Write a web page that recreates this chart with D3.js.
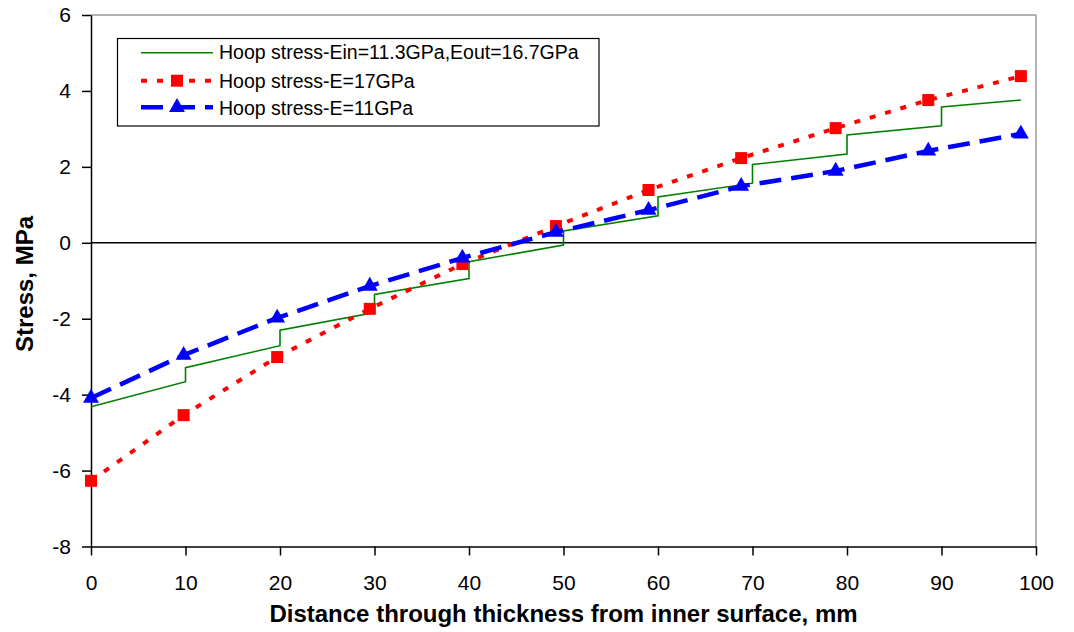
<!DOCTYPE html>
<html lang="en">
<head>
<meta charset="UTF-8">
<title>Hoop stress through thickness</title>
<script src="https://d3js.org/d3.v7.min.js"></script>
<style>
    body { margin: 0; background: white; }
    svg { display: block; }
    text { font-family: "Liberation Sans", Arial, sans-serif; fill: black; }
    .axis text { font-size: 21px; }
    .axis line, .axis path { stroke: black; stroke-width: 1.5px; }
    .title { font-size: 24px; font-weight: bold; }
    .legend text { font-size: 19.5px; }
</style>
</head>
<body>
<div id="container"></div>
<script>
// positions through thickness (mm) for the two uniform-modulus cases
const xPoints = [0, 9.8, 19.7, 29.5, 39.3, 49.2, 59.0, 68.8, 78.8, 88.6, 98.4];
const stressE17 = [-6.27, -4.54, -3.01, -1.74, -0.56, 0.44, 1.39, 2.23, 3.02, 3.76, 4.39];
const stressE11 = [-4.09, -2.96, -1.98, -1.14, -0.40, 0.28, 0.86, 1.49, 1.89, 2.42, 2.87];

// graded modulus case, stepped at each layer boundary
const gradedX = [0, 10, 10, 20, 20, 30, 30, 40, 40, 50, 50, 60, 60, 70, 70, 80, 80, 90, 90, 98.4];
const gradedStress = [-4.32, -3.66, -3.29, -2.71, -2.30, -1.84, -1.36, -0.94, -0.50, -0.06,
                      0.31, 0.71, 1.21, 1.57, 2.06, 2.34, 2.84, 3.08, 3.58, 3.76];

const xTicks = [0, 10, 20, 30, 40, 50, 60, 70, 80, 90, 100];
const yTicks = [-8, -6, -4, -2, 0, 2, 4, 6];

const seriesNames = ["Hoop stress-Ein=11.3GPa,Eout=16.7GPa", "Hoop stress-E=17GPa", "Hoop stress-E=11GPa"];

const width = 1074, height = 632;
const plot = {left: 91, right: 1036, top: 15, bottom: 546.5};

const svg = d3.select("#container").append("svg")
    .attr("width", width)
    .attr("height", height);

const xScale = d3.scaleLinear().domain([0, 100]).range([plot.left, plot.right]);
const yScale = d3.scaleLinear().domain([-8, 6]).range([plot.bottom, plot.top]);

// gray frame on top and right
svg.append("line")
    .attr("x1", plot.left).attr("x2", plot.right)
    .attr("y1", plot.top).attr("y2", plot.top)
    .attr("stroke", "#999").attr("stroke-width", 1.5);
svg.append("line")
    .attr("x1", plot.right).attr("x2", plot.right)
    .attr("y1", plot.top).attr("y2", plot.bottom)
    .attr("stroke", "#999").attr("stroke-width", 1.5);

// axes
svg.append("g").attr("class", "axis")
    .attr("transform", `translate(0,${plot.bottom})`)
    .call(d3.axisBottom(xScale).tickValues(xTicks).tickSize(9).tickSizeOuter(0).tickPadding(19.5));

svg.append("g").attr("class", "axis")
    .attr("transform", `translate(${plot.left},0)`)
    .call(d3.axisLeft(yScale).tickValues(yTicks).tickSize(9).tickSizeOuter(0).tickPadding(11)
        .tickFormat(d => String(d)));

// zero line
svg.append("line")
    .attr("x1", xScale(0)).attr("x2", xScale(100))
    .attr("y1", yScale(0)).attr("y2", yScale(0))
    .attr("stroke", "black").attr("stroke-width", 1.5);

const line = d3.line().x(d => xScale(d[0])).y(d => yScale(d[1]));

const gradedData = gradedX.map((x, i) => [x, gradedStress[i]]);
const e17Data = xPoints.map((x, i) => [x, stressE17[i]]);
const e11Data = xPoints.map((x, i) => [x, stressE11[i]]);

svg.append("path")
    .attr("d", line(gradedData))
    .attr("fill", "none").attr("stroke", "#008000").attr("stroke-width", 1.6);

svg.append("path")
    .attr("d", line(e17Data))
    .attr("fill", "none").attr("stroke", "#ff0000").attr("stroke-width", 4)
    .attr("stroke-dasharray", "6,10");

svg.selectAll(".sq").data(e17Data).enter().append("rect")
    .attr("x", d => xScale(d[0]) - 6).attr("y", d => yScale(d[1]) - 6)
    .attr("width", 12).attr("height", 12)
    .attr("fill", "#ff0000");

svg.append("path")
    .attr("d", line(e11Data))
    .attr("fill", "none").attr("stroke", "#0000ff").attr("stroke-width", 4.5)
    .attr("stroke-dasharray", "22,10");

const tri = d3.symbol().type(d3.symbolTriangle).size(110);
svg.selectAll(".tri").data(e11Data).enter().append("path")
    .attr("d", tri)
    .attr("transform", d => `translate(${xScale(d[0])},${yScale(d[1])})`)
    .attr("fill", "#0000ff");

// axis titles
svg.append("text").attr("class", "title")
    .attr("x", (plot.left + plot.right) / 2).attr("y", 622)
    .attr("text-anchor", "middle")
    .text("Distance through thickness from inner surface, mm");

svg.append("text").attr("class", "title")
    .attr("transform", "translate(33,284) rotate(-90)")
    .attr("text-anchor", "middle")
    .text("Stress, MPa");

// legend
const legend = svg.append("g").attr("class", "legend");
legend.append("rect")
    .attr("x", 117.5).attr("y", 38.5).attr("width", 481.5).attr("height", 87.5)
    .attr("fill", "white").attr("stroke", "black").attr("stroke-width", 1.2);

const rows = [
    {name: seriesNames[0], y: 52.7, base: 59.3},
    {name: seriesNames[1], y: 80.7, base: 88.3},
    {name: seriesNames[2], y: 107.3, base: 115}
];

legend.append("line")
    .attr("x1", 141).attr("x2", 213).attr("y1", rows[0].y).attr("y2", rows[0].y)
    .attr("stroke", "#008000").attr("stroke-width", 1.6);
legend.append("line")
    .attr("x1", 141).attr("x2", 213).attr("y1", rows[1].y).attr("y2", rows[1].y)
    .attr("stroke", "#ff0000").attr("stroke-width", 4).attr("stroke-dasharray", "6,10");
legend.append("rect")
    .attr("x", 171).attr("y", rows[1].y - 6).attr("width", 12).attr("height", 12)
    .attr("fill", "#ff0000");
legend.append("line")
    .attr("x1", 141).attr("x2", 213).attr("y1", rows[2].y).attr("y2", rows[2].y)
    .attr("stroke", "#0000ff").attr("stroke-width", 4.5).attr("stroke-dasharray", "22,10");
legend.append("path")
    .attr("d", tri)
    .attr("transform", `translate(177,${rows[2].y})`)
    .attr("fill", "#0000ff");

legend.selectAll(".lt").data(rows).enter().append("text")
    .attr("x", 219).attr("y", d => d.base)
    .text(d => d.name);
</script>
</body>
</html>
